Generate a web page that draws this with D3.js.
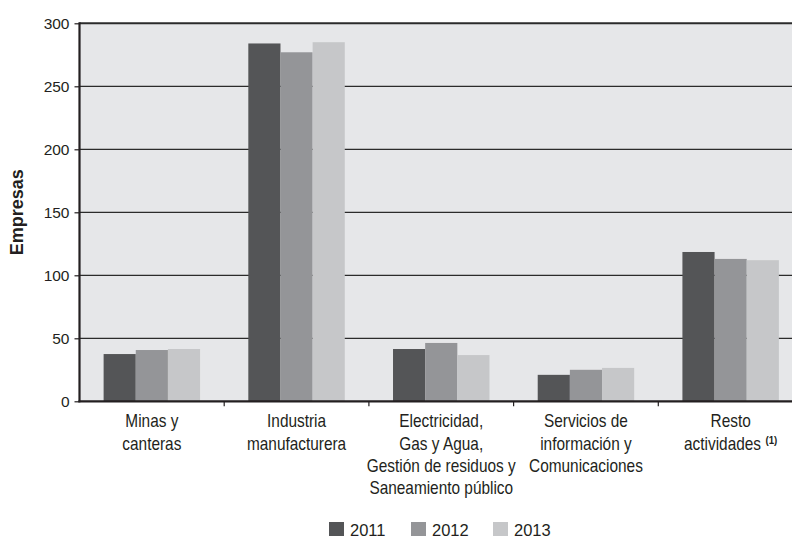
<!DOCTYPE html>
<html>
<head>
<meta charset="utf-8">
<script src="https://cdn.jsdelivr.net/npm/d3@7"></script>
<style>
  html, body { margin: 0; padding: 0; background: #ffffff; }
  svg { display: block; }
  text { font-family: "Liberation Sans", Arial, sans-serif; fill: #231f20; }
</style>
</head>
<body>
<svg id="chart" width="792" height="538"></svg>
<script>
// ---- Data ----
const categories = [
  "Minas y canteras",
  "Industria manufacturera",
  "Electricidad, Gas y Agua, Gestión de residuos y Saneamiento público",
  "Servicios de información y Comunicaciones",
  "Resto actividades"
];
const categoryLines = [
  ["Minas y", "canteras"],
  ["Industria", "manufacturera"],
  ["Electricidad,", "Gas y Agua,", "Gestión de residuos y", "Saneamiento público"],
  ["Servicios de", "información y", "Comunicaciones"],
  ["Resto", "actividades"]
];
const years = ["2011", "2012", "2013"];
const values2011 = [37.5, 284, 41.5, 21, 118.5];
const values2012 = [40.7, 277, 46.3, 25, 113];
const values2013 = [41.5, 285, 36.7, 26.5, 112];
const yTicks = [0, 50, 100, 150, 200, 250, 300];
const colors = ["#545557", "#949598", "#c6c7c9"];
const yTitle = "Empresas";
const footnoteMark = "(1)";

const seriesValues = [values2011, values2012, values2013];

// ---- Layout ----
const svg = d3.select("#chart");
const plotLeft = 79.5, plotRight = 803, plotTop = 23.3, plotBottom = 401.3;

const x0 = d3.scaleBand().domain(categories).range([plotLeft, plotRight]).paddingInner(0).paddingOuter(0);
const x1 = d3.scaleBand().domain(years).range([0, x0.bandwidth()]).paddingInner(0).paddingOuter(0.75);
const y = d3.scaleLinear().domain([0, 300]).range([plotBottom, plotTop]);

// plot background
svg.append("rect")
  .attr("x", plotLeft).attr("y", plotTop)
  .attr("width", plotRight - plotLeft).attr("height", plotBottom - plotTop)
  .attr("fill", "#e6e7e9");

// gridlines
svg.append("g").selectAll("line")
  .data(yTicks.filter(d => d > 0))
  .join("line")
  .attr("x1", plotLeft).attr("x2", plotRight)
  .attr("y1", d => y(d)).attr("y2", d => y(d))
  .attr("stroke", "#2b2b2b")
  .attr("stroke-width", d => d === 300 ? 2 : 1.3);

// bars
const groups = svg.append("g").selectAll("g")
  .data(categories)
  .join("g")
  .attr("transform", d => `translate(${x0(d)},0)`);

groups.selectAll("rect")
  .data((c, i) => years.map((yr, j) => ({ yr, j, v: seriesValues[j][i] })))
  .join("rect")
  .attr("x", d => x1(d.yr))
  .attr("width", x1.bandwidth())
  .attr("y", d => y(d.v))
  .attr("height", d => y(0) - y(d.v))
  .attr("fill", d => colors[d.j]);

// y axis
const yAxis = d3.axisLeft(y).tickValues(yTicks).tickSize(5).tickPadding(5).tickFormat(d3.format("d"));
const yg = svg.append("g").attr("transform", `translate(${plotLeft},0)`).call(yAxis);
yg.select(".domain").remove();
yg.selectAll(".tick line").attr("stroke", "#231f20").attr("stroke-width", 1.2);
yg.selectAll(".tick text").attr("font-size", 15.5).attr("fill", "#231f20")
  .style("font-family", '"Liberation Sans", Arial, sans-serif');

svg.append("line")
  .attr("x1", plotLeft).attr("x2", plotLeft)
  .attr("y1", plotTop - 1).attr("y2", plotBottom + 1)
  .attr("stroke", "#231f20").attr("stroke-width", 2.2);

// x axis
svg.append("line")
  .attr("x1", plotLeft - 1).attr("x2", plotRight)
  .attr("y1", plotBottom).attr("y2", plotBottom)
  .attr("stroke", "#231f20").attr("stroke-width", 2.2);

const boundaries = categories.map(c => x0(c)).concat([x0(categories[categories.length - 1]) + x0.bandwidth()]);
svg.append("g").selectAll("line")
  .data(boundaries.slice(1))
  .join("line")
  .attr("x1", d => d).attr("x2", d => d)
  .attr("y1", plotBottom).attr("y2", plotBottom + 5)
  .attr("stroke", "#231f20").attr("stroke-width", 1.2);

// category labels (slightly condensed)
const labelGroups = svg.append("g").selectAll("g")
  .data(categories)
  .join("g")
  .attr("transform", d => `translate(${x0(d) + x0.bandwidth() / 2},${plotBottom + 26})`);

labelGroups.each(function(c, i) {
  const t = d3.select(this).append("text")
    .attr("text-anchor", "middle")
    .attr("font-size", 17.5)
    .attr("transform", "scale(0.88,1)");
  categoryLines[i].forEach((line, k) => {
    t.append("tspan").attr("x", 0).attr("dy", k === 0 ? 0 : 22.3).text(line);
  });
  if (i === categories.length - 1) {
    t.append("tspan").attr("dx", 5).attr("dy", -6)
      .attr("font-size", 11).attr("font-weight", "bold").text(footnoteMark);
  }
});

// y title
svg.append("text")
  .attr("transform", `translate(23,${(plotTop + plotBottom) / 2}) rotate(-90)`)
  .attr("text-anchor", "middle")
  .attr("font-size", 18)
  .attr("font-weight", "bold")
  .text(yTitle);

// legend
const legendX = [329, 411, 493];
const lg = svg.append("g").selectAll("g")
  .data(years)
  .join("g")
  .attr("transform", (d, i) => `translate(${legendX[i]},522)`);
lg.append("rect").attr("width", 15).attr("height", 14).attr("fill", (d, i) => colors[i]);
lg.append("text").attr("x", 21).attr("y", 13.5).attr("font-size", 16.5)
  .attr("transform", "scale(1,1)").text(d => d);
</script>
</body>
</html>
